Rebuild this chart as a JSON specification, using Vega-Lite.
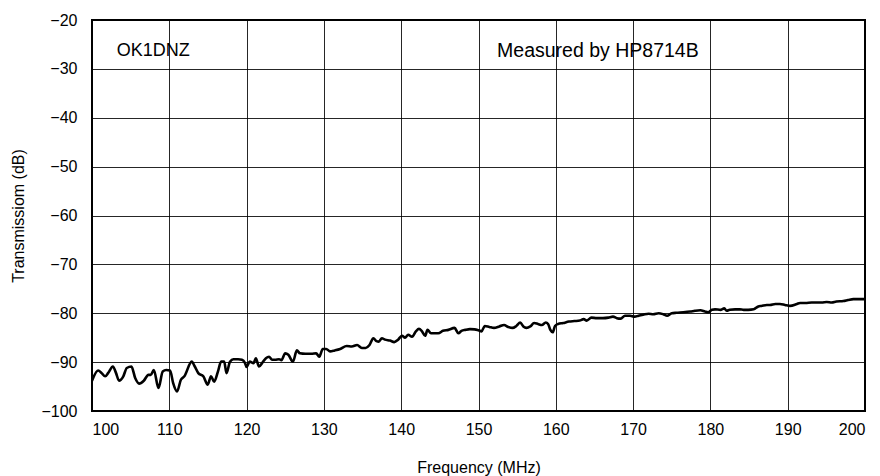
{
  "$schema": "https://vega.github.io/schema/vega-lite/v6.json",
  "autosize": "none",
  "width": 773,
  "height": 391,
  "padding": {"left": 92, "top": 20, "right": 15, "bottom": 65},
  "background": "white",
  "config": {
    "font": "Liberation Sans",
    "view": {"stroke": "#000", "strokeWidth": 2},
    "axis": {
      "labelFont": "Liberation Sans",
      "titleFont": "Liberation Sans",
      "labelFontSize": 16,
      "titleFontSize": 16,
      "titleFontWeight": "normal",
      "labelColor": "#000",
      "titleColor": "#000",
      "domain": false,
      "ticks": false,
      "gridColor": "#000",
      "gridOpacity": 0.85,
      "gridWidth": 1
    }
  },
  "datasets": {
    "trace": [
      {"f":100.0,"t":-93.8},{"f":100.8,"t":-91.7},{"f":101.25,"t":-92.25},{"f":101.7,"t":-92.9},{"f":102.1,"t":-92.2},
      {"f":102.7,"t":-90.9},{"f":103.1,"t":-92.2},{"f":103.5,"t":-93.8},{"f":104.05,"t":-92.9},{"f":104.5,"t":-91.2},
      {"f":105.1,"t":-90.9},{"f":105.6,"t":-93.3},{"f":106.1,"t":-94.4},{"f":106.7,"t":-93.8},{"f":107.3,"t":-92.6},
      {"f":107.6,"t":-92.6},{"f":108.0,"t":-91.6},{"f":108.6,"t":-95.3},{"f":109.15,"t":-91.9},{"f":109.6,"t":-91.6},
      {"f":110.1,"t":-91.7},{"f":110.5,"t":-94.3},{"f":111.0,"t":-96.0},{"f":111.5,"t":-93.6},{"f":111.95,"t":-92.9},
      {"f":112.9,"t":-89.9},{"f":113.3,"t":-90.9},{"f":113.75,"t":-92.25},{"f":114.4,"t":-92.9},{"f":114.97,"t":-94.6},
      {"f":115.4,"t":-92.9},{"f":115.8,"t":-94.0},{"f":116.3,"t":-91.9},{"f":116.7,"t":-89.9},{"f":117.1,"t":-89.9},
      {"f":117.4,"t":-92.25},{"f":117.85,"t":-89.9},{"f":118.3,"t":-89.4},{"f":118.9,"t":-89.4},{"f":119.4,"t":-89.5},
      {"f":119.8,"t":-90.2},{"f":120.0,"t":-91.0},{"f":120.4,"t":-89.9},{"f":120.9,"t":-90.2},{"f":121.2,"t":-89.2},
      {"f":121.6,"t":-90.9},{"f":122.0,"t":-90.2},{"f":122.5,"t":-89.2},{"f":122.9,"t":-88.9},{"f":123.3,"t":-89.5},
      {"f":123.7,"t":-89.5},{"f":124.2,"t":-89.4},{"f":124.5,"t":-89.6},{"f":125.0,"t":-88.2},{"f":125.4,"t":-88.5},
      {"f":126.0,"t":-89.9},{"f":126.5,"t":-87.6},{"f":126.9,"t":-88.2},{"f":127.6,"t":-88.3},{"f":128.4,"t":-88.3},
      {"f":129.0,"t":-88.2},{"f":129.4,"t":-88.9},{"f":129.85,"t":-87.3},{"f":130.3,"t":-87.3},{"f":130.8,"t":-87.8},
      {"f":131.4,"t":-87.6},{"f":132.1,"t":-87.3},{"f":132.95,"t":-86.7},{"f":133.6,"t":-86.8},{"f":134.3,"t":-86.5},
      {"f":134.9,"t":-87.1},{"f":135.4,"t":-87.1},{"f":135.9,"t":-86.5},{"f":136.4,"t":-85.1},{"f":136.8,"t":-85.7},
      {"f":137.1,"t":-85.8},{"f":137.5,"t":-85.1},{"f":137.9,"t":-85.4},{"f":138.55,"t":-85.6},{"f":139.1,"t":-85.9},
      {"f":139.6,"t":-85.4},{"f":140.1,"t":-84.6},{"f":140.5,"t":-85.0},{"f":140.9,"t":-84.4},{"f":141.4,"t":-84.8},
      {"f":141.9,"t":-83.7},{"f":142.3,"t":-83.2},{"f":142.65,"t":-83.6},{"f":143.1,"t":-84.6},{"f":143.4,"t":-83.4},
      {"f":143.85,"t":-84.1},{"f":144.3,"t":-84.1},{"f":144.8,"t":-84.1},{"f":145.4,"t":-83.6},{"f":146.1,"t":-83.4},
      {"f":146.9,"t":-83.0},{"f":147.4,"t":-84.1},{"f":147.8,"t":-83.6},{"f":148.3,"t":-83.4},{"f":148.9,"t":-83.25},
      {"f":149.5,"t":-83.3},{"f":150.0,"t":-83.5},{"f":150.4,"t":-83.7},{"f":150.8,"t":-82.6},{"f":151.4,"t":-82.8},
      {"f":152.0,"t":-83.0},{"f":152.7,"t":-82.7},{"f":153.3,"t":-82.4},{"f":153.85,"t":-82.8},{"f":154.4,"t":-83.0},
      {"f":154.9,"t":-82.6},{"f":155.4,"t":-81.9},{"f":155.8,"t":-82.7},{"f":156.2,"t":-83.0},{"f":156.7,"t":-82.7},
      {"f":157.2,"t":-82.0},{"f":157.7,"t":-82.2},{"f":158.2,"t":-82.4},{"f":158.7,"t":-81.9},{"f":159.0,"t":-82.2},
      {"f":159.3,"t":-83.4},{"f":159.6,"t":-83.9},{"f":159.9,"t":-82.6},{"f":160.3,"t":-82.2},{"f":160.95,"t":-82.0},
      {"f":161.7,"t":-81.7},{"f":162.4,"t":-81.6},{"f":163.1,"t":-81.5},{"f":163.6,"t":-81.2},{"f":164.0,"t":-81.5},
      {"f":164.6,"t":-80.9},{"f":165.3,"t":-81.0},{"f":166.1,"t":-81.0},{"f":166.8,"t":-80.9},{"f":167.4,"t":-80.7},
      {"f":167.9,"t":-81.0},{"f":168.4,"t":-81.1},{"f":168.95,"t":-80.5},{"f":169.6,"t":-80.5},{"f":170.2,"t":-80.7},
      {"f":170.7,"t":-80.5},{"f":171.3,"t":-80.3},{"f":172.0,"t":-80.1},{"f":172.6,"t":-80.2},{"f":173.3,"t":-80.0},
      {"f":173.9,"t":-80.2},{"f":174.4,"t":-80.5},{"f":175.0,"t":-80.0},{"f":175.6,"t":-79.9},{"f":176.5,"t":-79.8},
      {"f":177.4,"t":-79.65},{"f":178.0,"t":-79.5},{"f":178.7,"t":-79.4},{"f":179.3,"t":-79.65},{"f":179.7,"t":-79.8},
      {"f":180.2,"t":-79.3},{"f":180.6,"t":-79.2},{"f":181.3,"t":-79.3},{"f":181.8,"t":-79.0},{"f":182.1,"t":-79.5},
      {"f":182.5,"t":-79.3},{"f":183.2,"t":-79.2},{"f":183.8,"t":-79.2},{"f":184.3,"t":-79.3},{"f":184.9,"t":-79.3},
      {"f":185.6,"t":-79.2},{"f":186.2,"t":-78.6},{"f":186.6,"t":-78.5},{"f":187.3,"t":-78.3},{"f":187.7,"t":-78.3},
      {"f":188.4,"t":-78.1},{"f":189.0,"t":-78.1},{"f":189.65,"t":-78.3},{"f":190.3,"t":-78.5},{"f":191.2,"t":-78.1},
      {"f":191.6,"t":-77.9},{"f":192.3,"t":-77.9},{"f":193.1,"t":-77.8},{"f":193.75,"t":-77.8},{"f":194.4,"t":-77.8},
      {"f":195.05,"t":-77.7},{"f":195.7,"t":-77.8},{"f":196.3,"t":-77.6},{"f":197.2,"t":-77.5},{"f":197.8,"t":-77.3},
      {"f":198.5,"t":-77.1},{"f":199.1,"t":-77.1},{"f":200.0,"t":-77.1}
    ],
    "notes": [
      {"f": 103.2, "t": -26.4, "label": "OK1DNZ", "size": 18},
      {"f": 152.4, "t": -26.4, "label": "Measured by HP8714B", "size": 19.5}
    ]
  },
  "layer": [
    {
      "data": {"name": "trace"},
      "mark": {"type": "line", "color": "#000", "strokeWidth": 2.6, "interpolate": "monotone", "clip": true},
      "encoding": {
        "x": {
          "field": "f", "type": "quantitative",
          "title": "Frequency (MHz)",
          "scale": {"domain": [100, 200], "nice": false, "zero": false},
          "axis": {"values": [100,110,120,130,140,150,160,170,180,190,200], "labelPadding": 10, "titlePadding": 22, "format": "d"}
        },
        "y": {
          "field": "t", "type": "quantitative",
          "title": "Transmissiom (dB)",
          "scale": {"domain": [-100, -20], "nice": false, "zero": false},
          "axis": {"values": [-100,-90,-80,-70,-60,-50,-40,-30,-20], "labelPadding": 15, "titlePadding": 14, "format": "d"}
        }
      }
    },
    {
      "data": {"name": "notes"},
      "mark": {"type": "text", "align": "left", "baseline": "middle", "font": "Liberation Sans", "color": "#000"},
      "encoding": {
        "x": {"field": "f", "type": "quantitative"},
        "y": {"field": "t", "type": "quantitative"},
        "text": {"field": "label"},
        "size": {"field": "size", "type": "quantitative", "scale": null, "legend": null}
      }
    }
  ]
}
